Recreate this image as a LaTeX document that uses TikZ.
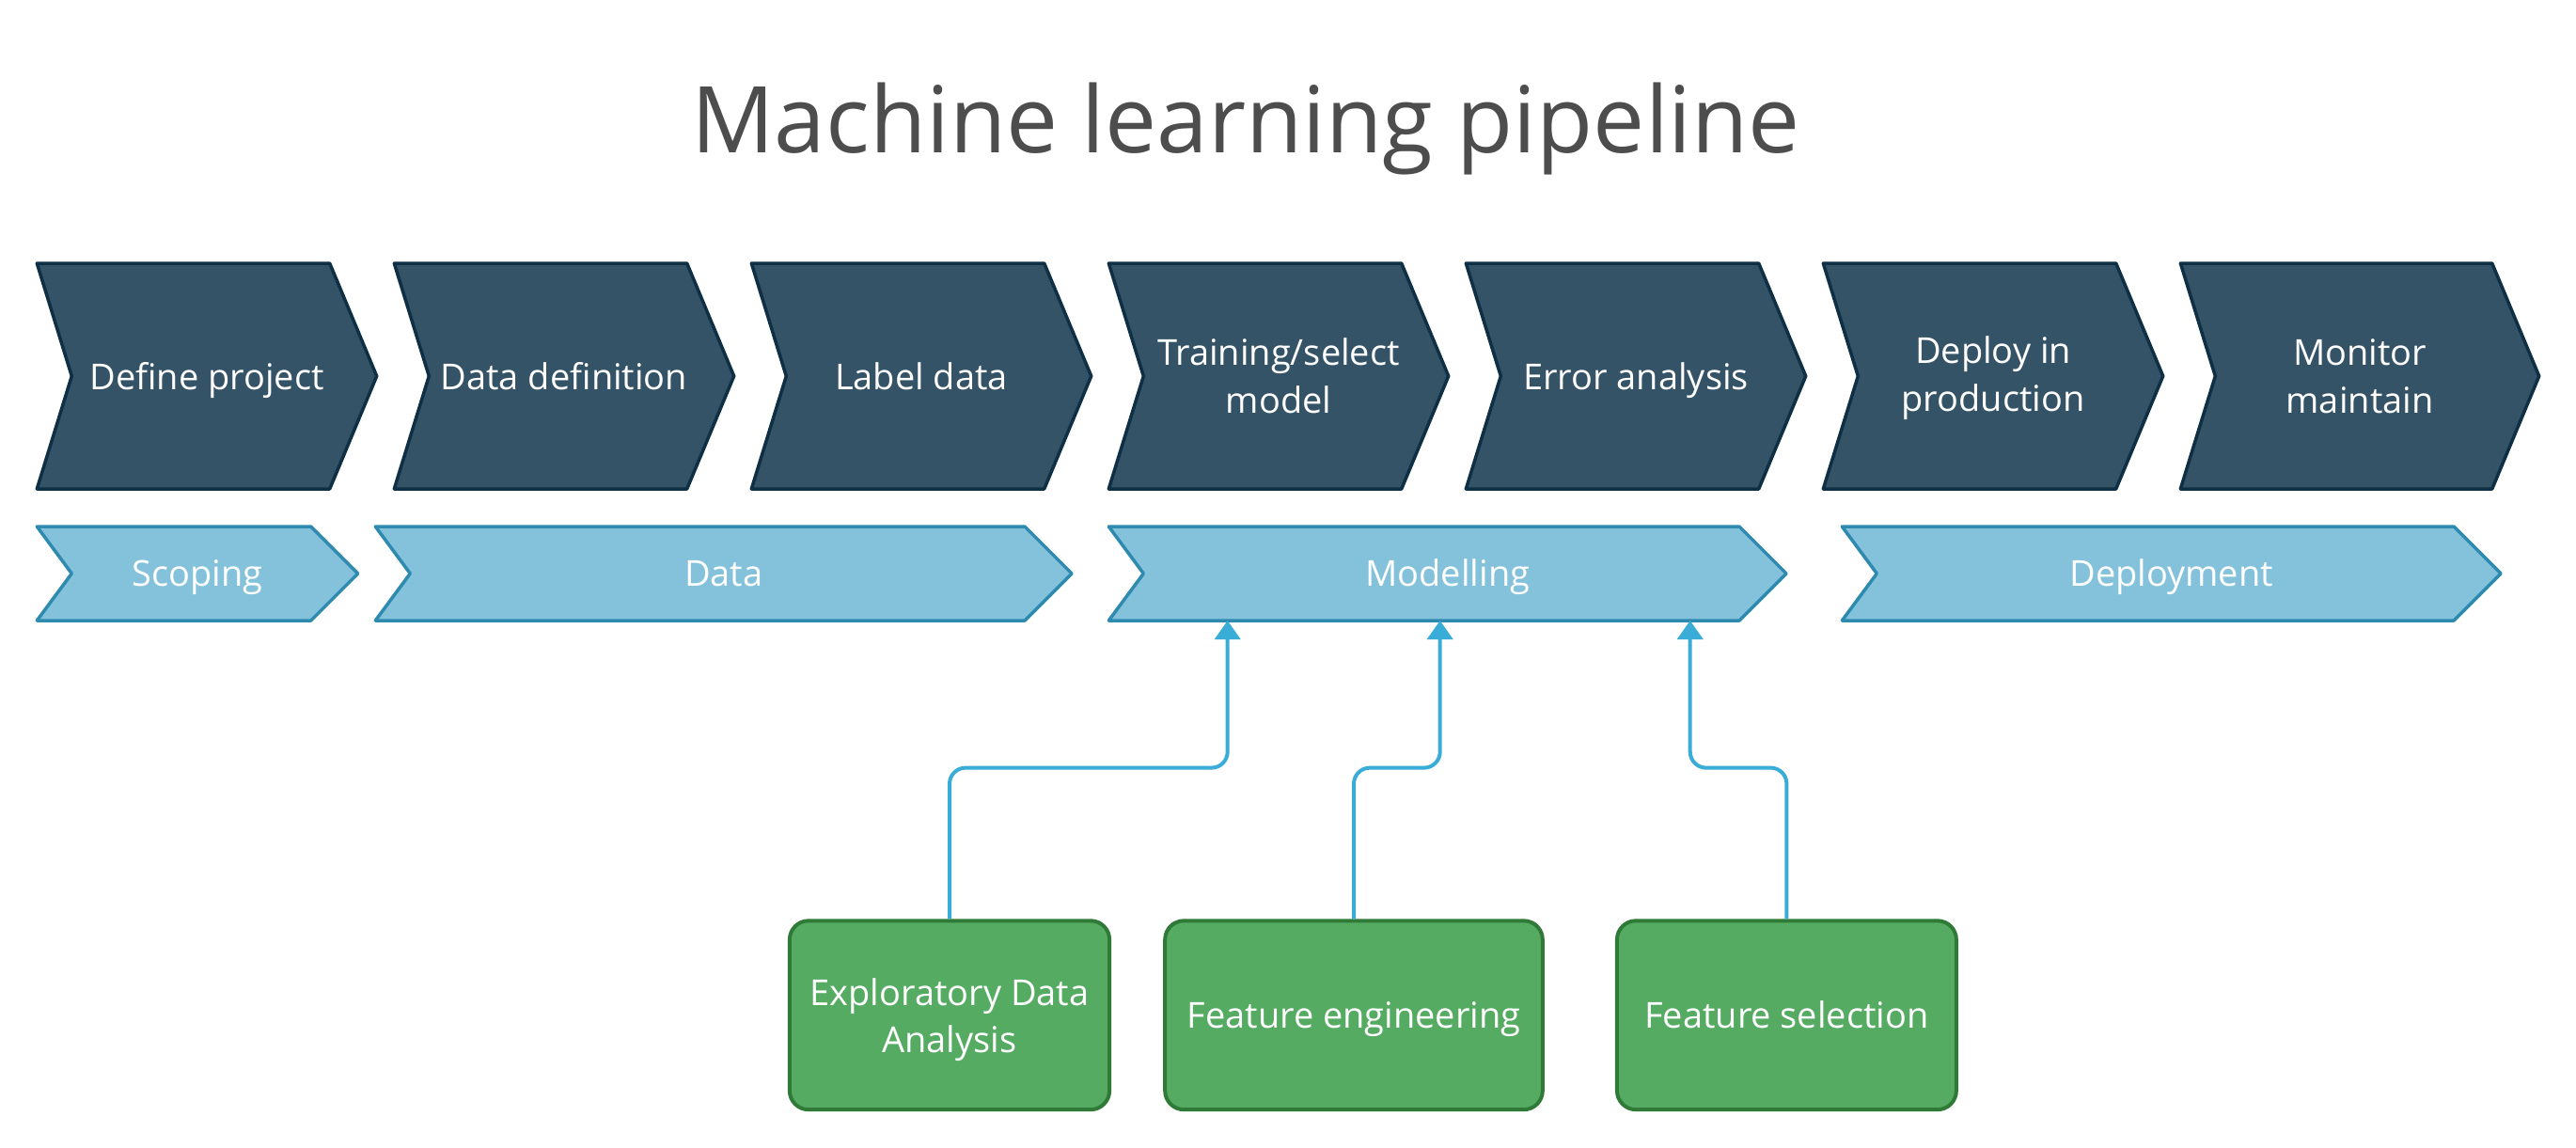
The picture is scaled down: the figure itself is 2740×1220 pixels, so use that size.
\documentclass[tikz,border=0pt]{standalone}
\usepackage{fontspec}
\setmainfont{Open Sans}
\usetikzlibrary{arrows.meta}
\definecolor{chevfill}{HTML}{345366}
\definecolor{chevline}{HTML}{0E2F44}
\definecolor{bandfill}{HTML}{84C2DB}
\definecolor{bandline}{HTML}{2F8AB0}
\definecolor{connc}{HTML}{3AACD8}
\definecolor{boxfill}{HTML}{56AB62}
\definecolor{boxline}{HTML}{2E7A36}
\definecolor{titlec}{HTML}{4D4D4D}
\newcommand{\chevpath}[4]{(#1,#3) -- (#2,#3) -- ({#2+50},{(#3+#4)/2}) -- (#2,#4) -- (#1,#4) -- ({#1+37},{(#3+#4)/2}) -- cycle}
\begin{document}
\begin{tikzpicture}[x=0.01cm,y=-0.01cm,
  topchev/.style={fill=chevfill,draw=chevline,line width=0.035cm,line join=round},
  bandchev/.style={fill=bandfill,draw=bandline,line width=0.035cm,line join=round},
  lbl/.style={text=white,font=\fontsize{10.8}{14.5}\selectfont,align=center,inner sep=0pt},
  stepbox/.style={draw=boxline,fill=boxfill,line width=0.04cm,rounded corners=0.2cm,
    minimum height=2.007cm,inner sep=0pt,text=white,
    font=\fontsize{10.8}{14.2}\selectfont,align=center},
  conn/.style={draw=connc,line width=0.04cm,rounded corners=0.17cm,
    -{Triangle[width=0.27cm,length=0.2cm]}}]

\useasboundingbox (0,0) rectangle (2740,1220);

% title
\node[anchor=base,text=titlec,font=\fontsize{27.9}{33}\selectfont,inner sep=0pt]
  (title) at (1325,162.7) {Machine learning pipeline};

% top chevrons
\draw[topchev] \chevpath{39.3}{350.7}{280}{520};
\draw[topchev] \chevpath{419.3}{730.7}{280}{520};
\draw[topchev] \chevpath{799.3}{1110.7}{280}{520};
\draw[topchev] \chevpath{1179.3}{1490.7}{280}{520};
\draw[topchev] \chevpath{1559.3}{1870.7}{280}{520};
\draw[topchev] \chevpath{1939.3}{2250.7}{280}{520};
\draw[topchev] \chevpath{2319.3}{2650.7}{280}{520};

\node[lbl,anchor=base] (define) at (220,414) {Define project};
\node[lbl,anchor=base] (datadef) at (600,414) {Data definition};
\node[lbl,anchor=base] (label) at (980,414) {Label data};
\node[lbl] (train) at (1360,400) {Training/select\\model};
\node[lbl,anchor=base] (error) at (1740,414) {Error analysis};
\node[lbl] (deploy) at (2120,402) {Deploy in\\production};
\node[lbl] (monitor) at (2510,400) {Monitor\\maintain};

% phase bands
\draw[bandchev] \chevpath{39.3}{330.7}{560}{660};
\draw[bandchev] \chevpath{399.3}{1090}{560}{660};
\draw[bandchev] \chevpath{1179.3}{1850}{560}{660};
\draw[bandchev] \chevpath{1959.3}{2610}{560}{660};

\node[lbl,anchor=base] (scoping) at (210,623.3) {Scoping};
\node[lbl,anchor=base] (data) at (769.7,623.3) {Data};
\node[lbl,anchor=base] (modelling) at (1539.7,623.3) {Modelling};
\node[lbl,anchor=base] (deployment) at (2309.7,623.3) {Deployment};

% arrow targets on the Modelling band
\coordinate (m1) at (1305.7,660);
\coordinate (m2) at (1531.7,660);
\coordinate (m3) at (1797.7,660);

% bottom boxes
\node[stepbox,minimum width=3.4cm,text depth=0pt] (eda) at (1010,1079.7) {Exploratory Data\\Analysis};
\node[stepbox,minimum width=4.014cm,text depth=0pt] (fe) at (1440,1079.7) {Feature engineering};
\node[stepbox,minimum width=3.607cm] (fs) at (1900.4,1079.7) {Feature selection};

% connectors
\draw[conn] (eda.north) -- ++(0,-160.7) -| (m1);
\draw[conn] (fe.north) -- ++(0,-160.7) -| (m2);
\draw[conn] (fs.north) -- ++(0,-160.7) -| (m3);
\end{tikzpicture}
\end{document}
